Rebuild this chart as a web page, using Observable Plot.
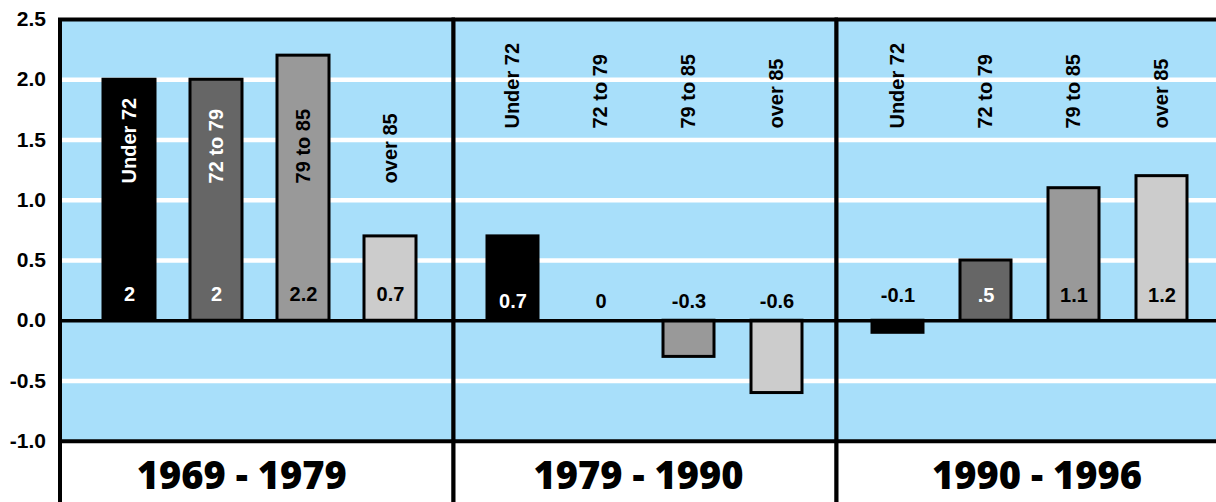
<!DOCTYPE html>
<html>
<head>
<meta charset="utf-8">
<script src="https://cdn.jsdelivr.net/npm/d3@7"></script>
<script src="https://cdn.jsdelivr.net/npm/@observablehq/plot@0.6"></script>
<style>
  html, body { margin: 0; padding: 0; background: #ffffff; overflow: hidden; }
  #chart { position: relative; width: 1216px; height: 502px; overflow: hidden; background: #ffffff; }
</style>
</head>
<body>
<div id="chart"></div>
<script>
// ---- data ----
const periods = ["1969 - 1979", "1979 - 1990", "1990 - 1996"];
const groups = ["Under 72", "72 to 79", "79 to 85", "over 85"];
const values1969 = [2, 2, 2.2, 0.7];
const values1979 = [0.7, 0, -0.3, -0.6];
const values1990 = [-0.1, 0.5, 1.1, 1.2];
const labels1969 = ["2", "2", "2.2", "0.7"];
const labels1979 = ["0.7", "0", "-0.3", "-0.6"];
const labels1990 = ["-0.1", ".5", "1.1", "1.2"];
const yTicks = [-1, -0.5, 0, 0.5, 1, 1.5, 2, 2.5];

// ---- styles / layout ----
const barFills = ["#000000", "#666666", "#999999", "#cccccc"];
const darkBars = [true, true, false, false];
const blue = "#a8dffa";
const font = "'Liberation Sans', Arial, sans-serif";
const seriesValues = [values1969, values1979, values1990];
const seriesLabels = [labels1969, labels1979, labels1990];
const layout = [
  {left: 0,   width: 455, ml: 59.5, mr: 2, pi: 0.405, po: 0.451, align: 0.54, catY: 1.14, valY: 0.22,  pdx: -15},
  {left: 451, width: 387, ml: 2,    mr: 2, pi: 0.424, po: 0.376, align: 0.5,  catY: 1.595, valY: 0.155, pdx: -6.5},
  {left: 834, width: 392, ml: 2,    mr: 2, pi: 0.424, po: 0.397, align: 0.49, catY: 1.595, valY: 0.21,  pdx: 6.5}
];
const H = 506, MT = 19;
const yMin = -1.5415;
const periodY = -1.295;

const chart = document.getElementById("chart");

periods.forEach((period, i) => {
  const cfg = layout[i];
  const rows = groups.map((g, j) => ({
    group: g,
    value: seriesValues[i][j],
    label: seriesLabels[i][j],
    fill: barFills[j],
    dark: darkBars[j]
  }));
  const marks = [
    Plot.rect([{lo: yTicks[0], hi: yTicks[yTicks.length - 1]}], {y1: "lo", y2: "hi", fill: blue}),
    Plot.ruleY(yTicks.filter(t => t !== 0 && t !== yTicks[0] && t !== yTicks[yTicks.length - 1]), {stroke: "#ffffff", strokeWidth: 4.5}),
    Plot.barY(rows, {x: "group", y: "value", fill: "fill", stroke: "#000000", strokeWidth: 3}),
    Plot.ruleY([0], {stroke: "#000000", strokeWidth: 3.5}),
    Plot.ruleY([yTicks[0]], {stroke: "#000000", strokeWidth: 4}),
    Plot.frame({stroke: "#000000", strokeWidth: 4}),
    Plot.text(rows, {
      x: "group", y: () => cfg.catY, text: "group", rotate: -90,
      textAnchor: "start", lineAnchor: "middle",
      fontSize: 20, fontWeight: "bold", fontFamily: font,
      fill: d => (d.dark && d.value > cfg.catY) ? "#ffffff" : "#000000"
    }),
    Plot.text(rows, {
      x: "group", y: () => cfg.valY, text: "label",
      lineAnchor: "middle",
      fontSize: 20, fontWeight: "bold", fontFamily: font,
      fill: d => (d.dark && d.value > cfg.valY + 0.1) ? "#ffffff" : "#000000"
    }),
    Plot.text([period], {
      y: () => periodY, text: d => d, frameAnchor: "middle", dx: cfg.pdx,
      lineAnchor: "middle",
      fontSize: 38, fontWeight: 800, fontFamily: "'Open Sans', 'DejaVu Sans', sans-serif",
      fill: "#000000"
    })
  ];
  if (i === 0) {
    marks.push(Plot.axisY(yTicks, {
      tickSize: 0, tickPadding: 14, tickFormat: d => d.toFixed(1),
      fontSize: 21, fontWeight: "bold", fontFamily: font, label: null, fill: "#000000"
    }));
  }
  const svg = Plot.plot({
    width: cfg.width,
    height: H,
    marginTop: MT,
    marginBottom: 0,
    marginLeft: cfg.ml,
    marginRight: cfg.mr,
    style: {position: "absolute", left: cfg.left + "px", top: "0px", background: "transparent", maxWidth: "none", fontFamily: font},
    x: {domain: groups, axis: null, paddingInner: cfg.pi, paddingOuter: cfg.po, align: cfg.align},
    y: {domain: [yMin, yTicks[yTicks.length - 1]], axis: null},
    color: {type: "identity"},
    marks
  });
  chart.appendChild(svg);
});
</script>
</body>
</html>
